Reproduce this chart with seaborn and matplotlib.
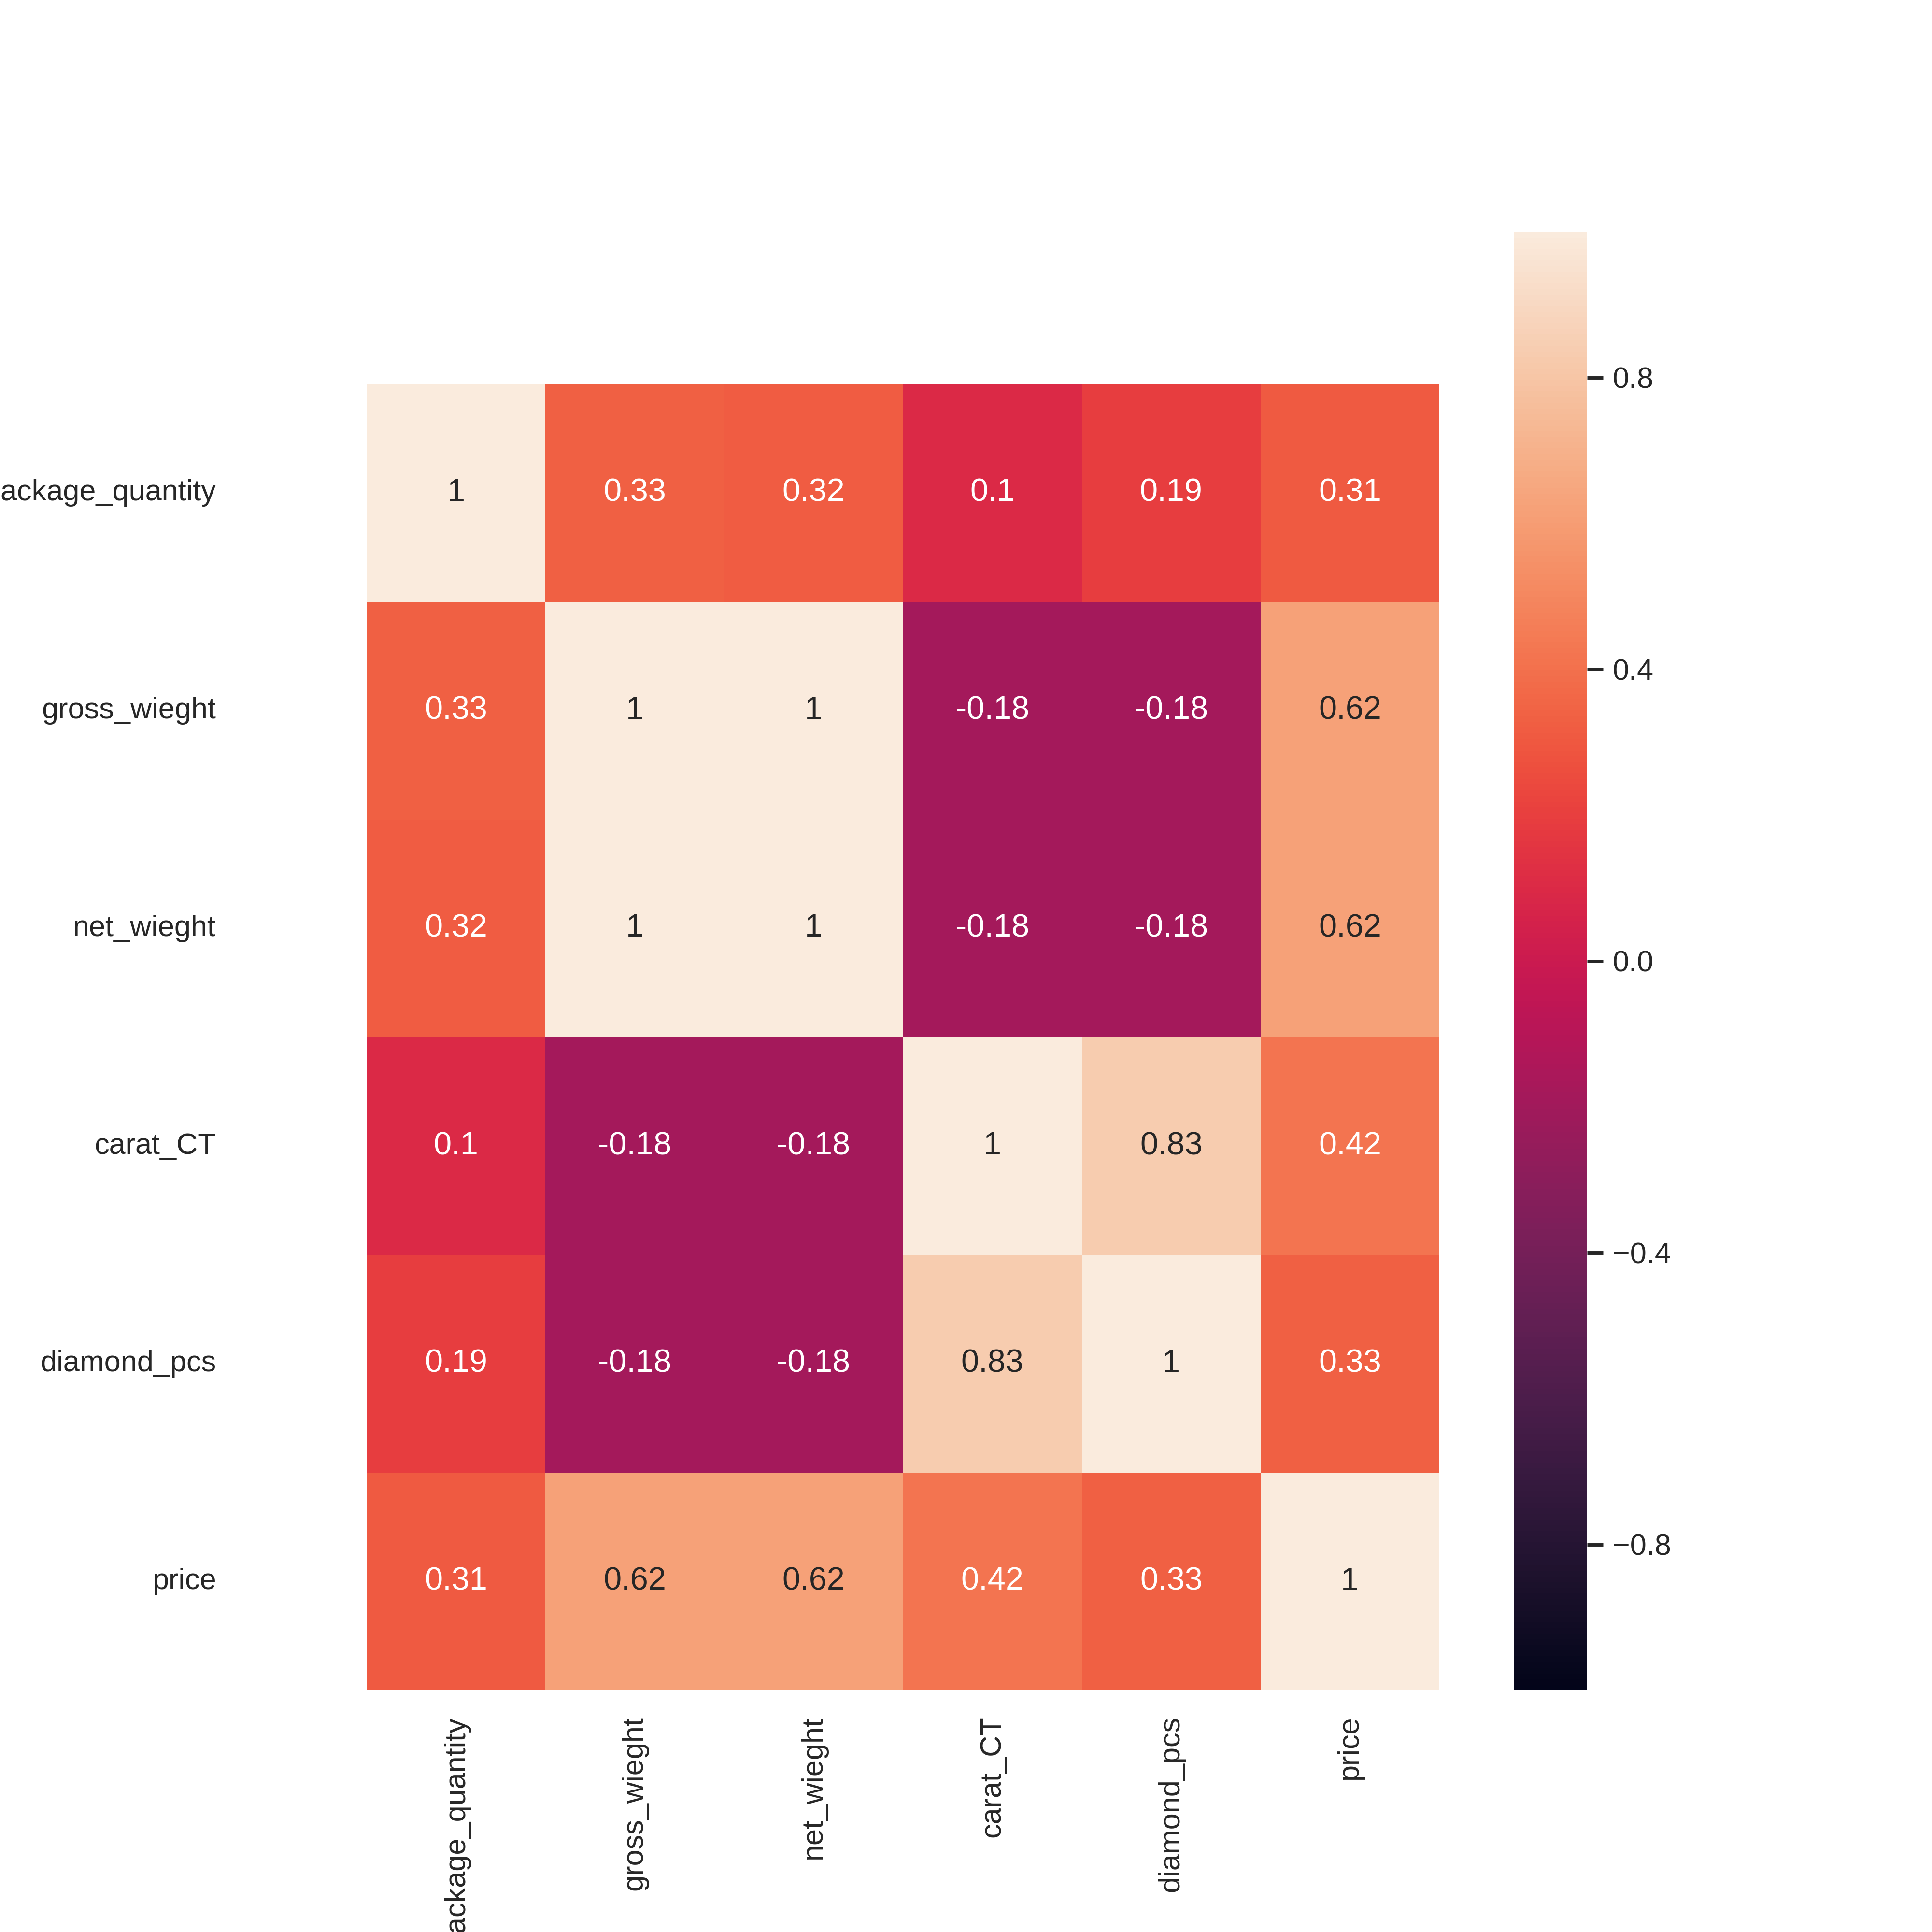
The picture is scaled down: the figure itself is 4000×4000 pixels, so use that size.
import matplotlib
matplotlib.use("Agg")
import matplotlib.pyplot as plt
import seaborn as sns
import pandas as pd

# Kolumnnamn och korrelationsvärden
columns = ['package_quantity', 'gross_wieght', 'net_wieght', 'carat_CT', 'diamond_pcs', 'price']
corr_values = [
    [1.00, 0.33, 0.32, 0.10, 0.19, 0.31],
    [0.33, 1.00, 1.00, -0.18, -0.18, 0.62],
    [0.32, 1.00, 1.00, -0.18, -0.18, 0.62],
    [0.10, -0.18, -0.18, 1.00, 0.83, 0.42],
    [0.19, -0.18, -0.18, 0.83, 1.00, 0.33],
    [0.31, 0.62, 0.62, 0.42, 0.33, 1.00],
]
cbar_ticks = [-0.8, -0.4, 0.0, 0.4, 0.8]

corr = pd.DataFrame(corr_values, index=columns, columns=columns)

sns.set_theme(style='white')
plt.rcParams['font.family'] = ['Liberation Sans', 'DejaVu Sans']

fig, ax = plt.subplots(figsize=(10, 10), dpi=400)
fig.subplots_adjust(left=0.125, right=0.9, bottom=0.125, top=0.88)

sns.heatmap(corr, vmin=-1, vmax=1, annot=True, ax=ax,
            cbar_kws={'ticks': cbar_ticks})

# Extra tomrum till vänster och ovanför, som i originalet
ax.set_xlim(-0.7, len(columns))
ax.set_ylim(len(columns), -0.7)
plt.setp(ax.get_xticklabels(), rotation=90)
plt.setp(ax.get_yticklabels(), rotation=0)

fig.savefig('out.png', dpi=400)
